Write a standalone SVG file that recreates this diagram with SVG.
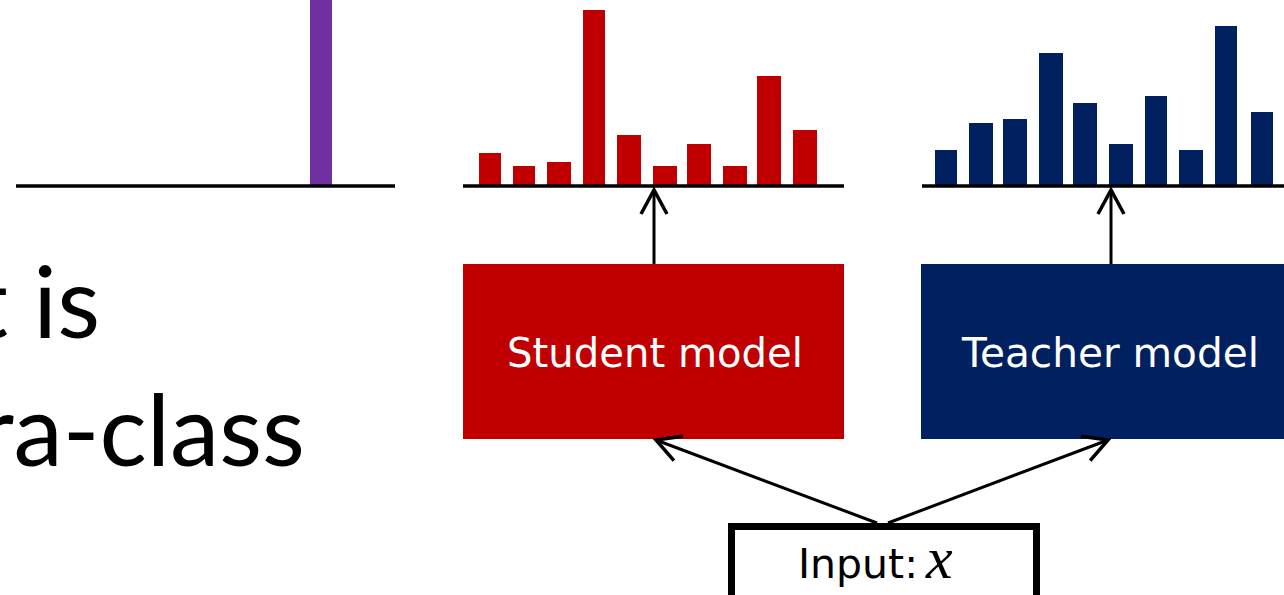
<svg xmlns="http://www.w3.org/2000/svg" width="1284" height="595" viewBox="0 0 1284 595">
<style>
.axis{stroke:#000;stroke-width:3.5;fill:none}
.red{fill:#C00000}
.navy{fill:#002060}
.conn{stroke:#000;stroke-width:3;fill:none;marker-end:url(#arr)}
.big{font-family:Lato,"Open Sans",sans-serif;font-size:99px;fill:#000;text-anchor:end}
.lbl{font-family:"DejaVu Sans",Verdana,sans-serif;font-size:41px;fill:#fff}
</style>
<defs>
<marker id="arr" markerUnits="userSpaceOnUse" orient="auto" refX="0" refY="0" markerWidth="40" markerHeight="40" viewBox="-30 -20 40 40" overflow="visible">
<path d="M-24,-13 L0,0 L-24,13" stroke="#000" stroke-width="3.5" fill="none" stroke-linejoin="miter"/>
</marker>
</defs>
<rect width="1284" height="595" fill="#fff"/>

<g id="onehot">
<rect x="310" y="0" width="22" height="186" fill="#7030A0"/>
<line class="axis" x1="16" y1="186" x2="395" y2="186"/>
</g>

<g id="text">
<text class="big" x="100" y="338">t is</text>
<text class="big" x="305" y="466">ra-class</text>
</g>

<g id="student-dist">
<rect class="red" x="479" y="153" width="22" height="33"/>
<rect class="red" x="513" y="166" width="22" height="20"/>
<rect class="red" x="547" y="162" width="24" height="24"/>
<rect class="red" x="583" y="10" width="22" height="176"/>
<rect class="red" x="617" y="135" width="24" height="51"/>
<rect class="red" x="653" y="166" width="24" height="20"/>
<rect class="red" x="687" y="144" width="24" height="42"/>
<rect class="red" x="723" y="166" width="24" height="20"/>
<rect class="red" x="757" y="76" width="24" height="110"/>
<rect class="red" x="793" y="130" width="24" height="56"/>
<line class="axis" x1="463" y1="186" x2="844" y2="186"/>
</g>

<g id="teacher-dist">
<rect class="navy" x="935" y="150" width="22" height="36"/>
<rect class="navy" x="969" y="123" width="24" height="63"/>
<rect class="navy" x="1003" y="119" width="24" height="67"/>
<rect class="navy" x="1039" y="53" width="24" height="133"/>
<rect class="navy" x="1073" y="103" width="24" height="83"/>
<rect class="navy" x="1109" y="144" width="24" height="42"/>
<rect class="navy" x="1145" y="96" width="22" height="90"/>
<rect class="navy" x="1179" y="150" width="24" height="36"/>
<rect class="navy" x="1215" y="26" width="22" height="160"/>
<rect class="navy" x="1251" y="112" width="22" height="74"/>
<line class="axis" x1="922" y1="186" x2="1284" y2="186"/>
</g>

<g id="student">
<rect class="red" x="463" y="264" width="381" height="175"/>
<text class="lbl" x="507" y="367" textLength="296" lengthAdjust="spacingAndGlyphs">Student model</text>
</g>

<g id="teacher">
<rect class="navy" x="921" y="264" width="363" height="175"/>
<text class="lbl" x="962" y="367" textLength="297" lengthAdjust="spacingAndGlyphs">Teacher model</text>
</g>

<g id="input">
<rect x="731.5" y="526.5" width="305" height="80" fill="#fff" stroke="#000" stroke-width="7"/>
<text x="798" y="578" font-family="DejaVu Sans, Verdana, sans-serif" font-size="41" fill="#000">Input:</text>
<text x="926" y="578" font-family="Liberation Serif, serif" font-style="italic" font-size="60" fill="#000">x</text>
</g>

<g id="connectors">
<line class="conn" x1="654" y1="264" x2="654" y2="190"/>
<line class="conn" x1="1111" y1="264" x2="1111" y2="190"/>
<line class="conn" x1="877" y1="523" x2="656" y2="440"/>
<line class="conn" x1="888" y1="523" x2="1108" y2="440"/>
</g>
</svg>
